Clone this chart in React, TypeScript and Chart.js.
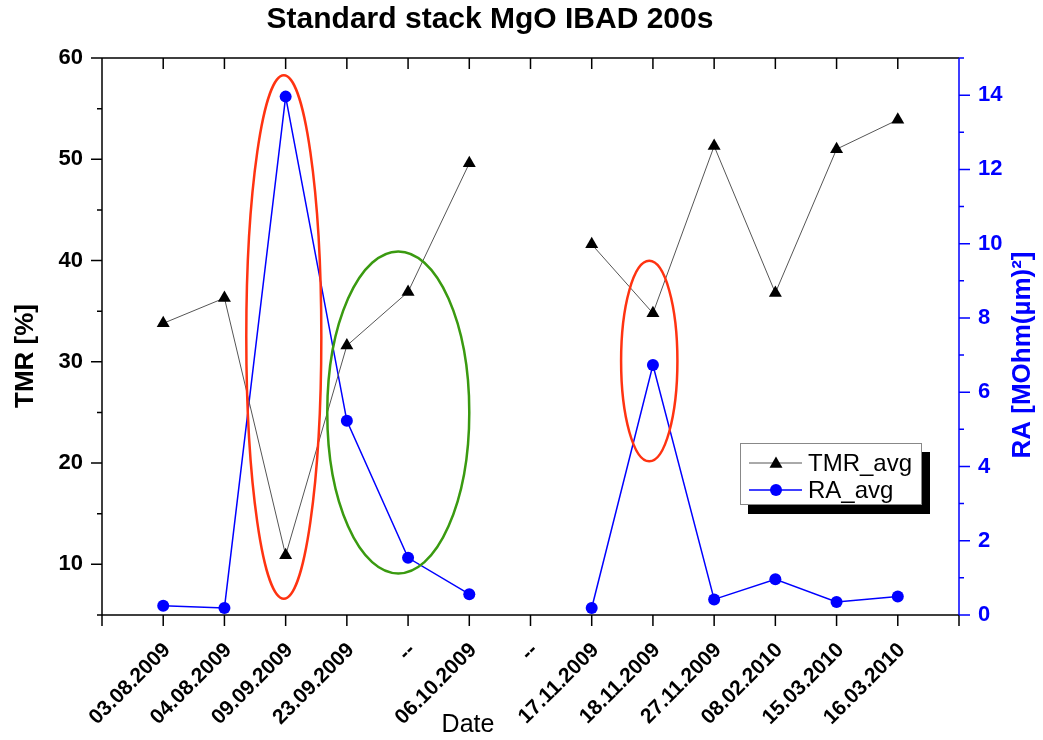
import React, { useEffect, useRef } from 'react';
import { Chart, registerables } from 'chart.js';

Chart.register(...registerables);

// ---------- data ----------
const categories = [
  '03.08.2009', '04.08.2009', '09.09.2009', '23.09.2009', '--', '06.10.2009', '--',
  '17.11.2009', '18.11.2009', '27.11.2009', '08.02.2010', '15.03.2010', '16.03.2010',
];
const tmrAvg: (number | null)[] = [33.8, 36.3, 10.9, 31.6, 36.9, 49.6, null, 41.6, 34.8, 51.3, 36.8, 51.0, 53.9];
const raAvg: (number | null)[] = [0.25, 0.19, 13.96, 5.23, 1.54, 0.56, null, 0.19, 6.73, 0.42, 0.96, 0.35, 0.5];

const tmrTicks = [10, 20, 30, 40, 50, 60];
const tmrMinorTicks = [5, 15, 25, 35, 45, 55];
const raTicks = [0, 2, 4, 6, 8, 10, 12, 14];
const raMinorTicks = [1, 3, 5, 7, 9, 11, 13, 15];

// highlight ellipses in data units (x = category position, y = TMR axis)
const ellipseCx = [2.97, 4.84, 8.94];
const ellipseCy = [32.45, 25.0, 30.07];
const ellipseRx = [0.613, 1.16, 0.46];
const ellipseRy = [25.85, 15.9, 9.9];
const ellipseColors = ['#ff3311', '#3a9a10', '#ff3311'];

const FONT = '"Liberation Sans", Arial, sans-serif';
const BLUE = '#0000ff';

const decorPlugin = {
  id: 'decor',
  afterDatasetsDraw(chart: any) {
    const { ctx, scales } = chart;
    const x = scales.x;
    const y = scales.y;
    ctx.save();
    for (let i = 0; i < ellipseCx.length; i++) {
      const cx = x.getPixelForValue(ellipseCx[i]);
      const cy = y.getPixelForValue(ellipseCy[i]);
      const rx = Math.abs(x.getPixelForValue(ellipseCx[i] + ellipseRx[i]) - cx);
      const ry = Math.abs(y.getPixelForValue(ellipseCy[i] + ellipseRy[i]) - cy);
      ctx.beginPath();
      ctx.ellipse(cx, cy, rx, ry, 0, 0, Math.PI * 2);
      ctx.strokeStyle = ellipseColors[i];
      ctx.lineWidth = 2.5;
      ctx.stroke();
    }
    ctx.restore();
  },
  afterDraw(chart: any) {
    const { ctx, chartArea, scales } = chart;
    const { left, right, top, bottom } = chartArea;
    const y = scales.y;
    const y1 = scales.y1;
    const x = scales.x;
    ctx.save();
    ctx.lineWidth = 1.5;
    // axis lines
    ctx.strokeStyle = '#000';
    ctx.beginPath();
    ctx.moveTo(left, top); ctx.lineTo(right, top);
    ctx.moveTo(left, bottom); ctx.lineTo(right, bottom);
    ctx.moveTo(left, top); ctx.lineTo(left, bottom);
    // left ticks
    tmrTicks.forEach((v) => { const p = y.getPixelForValue(v); ctx.moveTo(left - 11, p); ctx.lineTo(left, p); });
    tmrMinorTicks.forEach((v) => { const p = y.getPixelForValue(v); ctx.moveTo(left - 5, p); ctx.lineTo(left, p); });
    // bottom ticks (outward) and top ticks (inward)
    for (let i = 0; i <= categories.length + 1; i++) {
      const p = x.getPixelForValue(i);
      ctx.moveTo(p, bottom); ctx.lineTo(p, bottom + 11);
      if (i >= 1 && i <= categories.length) { ctx.moveTo(p, top); ctx.lineTo(p, top + 11); }
    }
    ctx.stroke();
    // right axis
    ctx.strokeStyle = BLUE;
    ctx.beginPath();
    ctx.moveTo(right, top); ctx.lineTo(right, bottom);
    raTicks.forEach((v) => { const p = y1.getPixelForValue(v); ctx.moveTo(right, p); ctx.lineTo(right + 11, p); });
    raMinorTicks.forEach((v) => { const p = y1.getPixelForValue(v); ctx.moveTo(right, p); ctx.lineTo(right + 5, p); });
    ctx.stroke();

    // titles
    ctx.fillStyle = '#000';
    ctx.textAlign = 'center';
    ctx.textBaseline = 'middle';
    ctx.font = `bold 30px ${FONT}`;
    ctx.fillText('Standard stack MgO IBAD 200s', 490, 20);
    ctx.font = `25px ${FONT}`;
    ctx.fillText('Date', 468, 725);
    ctx.save();
    ctx.translate(26, 356);
    ctx.rotate(-Math.PI / 2);
    ctx.font = `bold 26px ${FONT}`;
    ctx.fillText('TMR [%]', 0, 0);
    ctx.restore();
    ctx.save();
    ctx.translate(1023, 355);
    ctx.rotate(-Math.PI / 2);
    ctx.font = `bold 26px ${FONT}`;
    ctx.fillStyle = BLUE;
    ctx.fillText('RA [MOhm(\u00b5m)\u00b2]', 0, 0);
    ctx.restore();

    // legend
    const lx = 740, ly = 443, lw = 182, lh = 62;
    ctx.fillStyle = '#000';
    ctx.fillRect(lx + 8, ly + 9, lw, lh);
    ctx.fillStyle = '#fff';
    ctx.fillRect(lx, ly, lw, lh);
    ctx.strokeStyle = '#888';
    ctx.lineWidth = 1;
    ctx.strokeRect(lx + 0.5, ly + 0.5, lw - 1, lh - 1);
    const r1 = ly + 20, r2 = ly + 47;
    ctx.lineWidth = 1;
    ctx.strokeStyle = '#555';
    ctx.beginPath(); ctx.moveTo(lx + 9, r1); ctx.lineTo(lx + 62, r1); ctx.stroke();
    ctx.fillStyle = '#000';
    const tr = 7.5, tcx = lx + 36, tcy = r1 + 1;
    ctx.beginPath();
    ctx.moveTo(tcx, tcy - tr);
    ctx.lineTo(tcx + tr * 0.866, tcy + tr * 0.5);
    ctx.lineTo(tcx - tr * 0.866, tcy + tr * 0.5);
    ctx.closePath();
    ctx.fill();
    ctx.strokeStyle = BLUE;
    ctx.lineWidth = 1.5;
    ctx.beginPath(); ctx.moveTo(lx + 9, r2); ctx.lineTo(lx + 62, r2); ctx.stroke();
    ctx.fillStyle = BLUE;
    ctx.beginPath(); ctx.arc(lx + 36, r2, 6, 0, Math.PI * 2); ctx.fill();
    ctx.fillStyle = '#000';
    ctx.textAlign = 'left';
    ctx.font = `24px ${FONT}`;
    ctx.fillText('TMR_avg', lx + 68, r1 + 1);
    ctx.fillText('RA_avg', lx + 68, r2 + 1);
    ctx.restore();
  },
};

export default function App() {
  const ref = useRef<HTMLCanvasElement | null>(null);
  useEffect(() => {
    document.body.style.margin = '0';
    const canvas = ref.current;
    if (!canvas) return;
    const tmrData = tmrAvg.map((v, i) => ({ x: i + 1, y: v }));
    const raData = raAvg.map((v, i) => ({ x: i + 1, y: v }));
    const chart = new Chart(canvas, {
      type: 'line',
      data: {
        datasets: [
          {
            label: 'TMR_avg',
            data: tmrData as any,
            yAxisID: 'y',
            borderColor: '#555',
            borderWidth: 1,
            pointStyle: 'triangle',
            pointRadius: 7.5,
            pointBackgroundColor: '#000',
            pointBorderColor: '#000',
            pointBorderWidth: 0,
            spanGaps: false,
          },
          {
            label: 'RA_avg',
            data: raData as any,
            yAxisID: 'y1',
            borderColor: BLUE,
            borderWidth: 1.5,
            pointStyle: 'circle',
            pointRadius: 6,
            pointBackgroundColor: BLUE,
            pointBorderColor: BLUE,
            pointBorderWidth: 0,
            spanGaps: false,
          },
        ],
      },
      options: {
        responsive: false,
        animation: false,
        devicePixelRatio: 1,
        layout: { padding: { top: 58, left: 0, right: 0, bottom: 0 } },
        plugins: { legend: { display: false }, tooltip: { enabled: false }, title: { display: false } },
        scales: {
          x: {
            type: 'linear',
            min: 0,
            max: categories.length + 1,
            afterBuildTicks: (s: any) => { s.ticks = categories.map((_, i) => ({ value: i + 1 })); },
            afterFit: (s: any) => { s.height = 125; },
            grid: { display: false, drawTicks: true, tickLength: 11 },
            border: { display: false },
            ticks: {
              autoSkip: false,
              maxRotation: 45,
              minRotation: 45,
              padding: 12,
              labelOffset: 4,
              color: '#000',
              font: { family: FONT, size: 21, weight: 'bold' },
              callback: (v: any) => categories[Math.round(v) - 1] ?? '',
            },
          },
          y: {
            type: 'linear',
            position: 'left',
            min: 5,
            max: 60,
            afterBuildTicks: (s: any) => { s.ticks = tmrTicks.map((v) => ({ value: v })); },
            afterFit: (s: any) => { s.width = 102; },
            grid: { display: false, drawTicks: true, tickLength: 11 },
            border: { display: false },
            ticks: { padding: 8, color: '#000', font: { family: FONT, size: 22, weight: 'bold' }, callback: (v: any) => String(v) },
          },
          y1: {
            type: 'linear',
            position: 'right',
            min: 0,
            max: 15,
            afterBuildTicks: (s: any) => { s.ticks = raTicks.map((v) => ({ value: v })); },
            afterFit: (s: any) => { s.width = 84; },
            grid: { display: false, drawTicks: true, tickLength: 11 },
            border: { display: false },
            ticks: { padding: 8, color: BLUE, font: { family: FONT, size: 22, weight: 'bold' }, callback: (v: any) => String(v) },
          },
        },
      },
      plugins: [decorPlugin],
    } as any);
    return () => chart.destroy();
  }, []);
  return (
    <div style={{ width: 1043, height: 740 }}>
      <canvas ref={ref} width={1043} height={740} />
    </div>
  );
}
